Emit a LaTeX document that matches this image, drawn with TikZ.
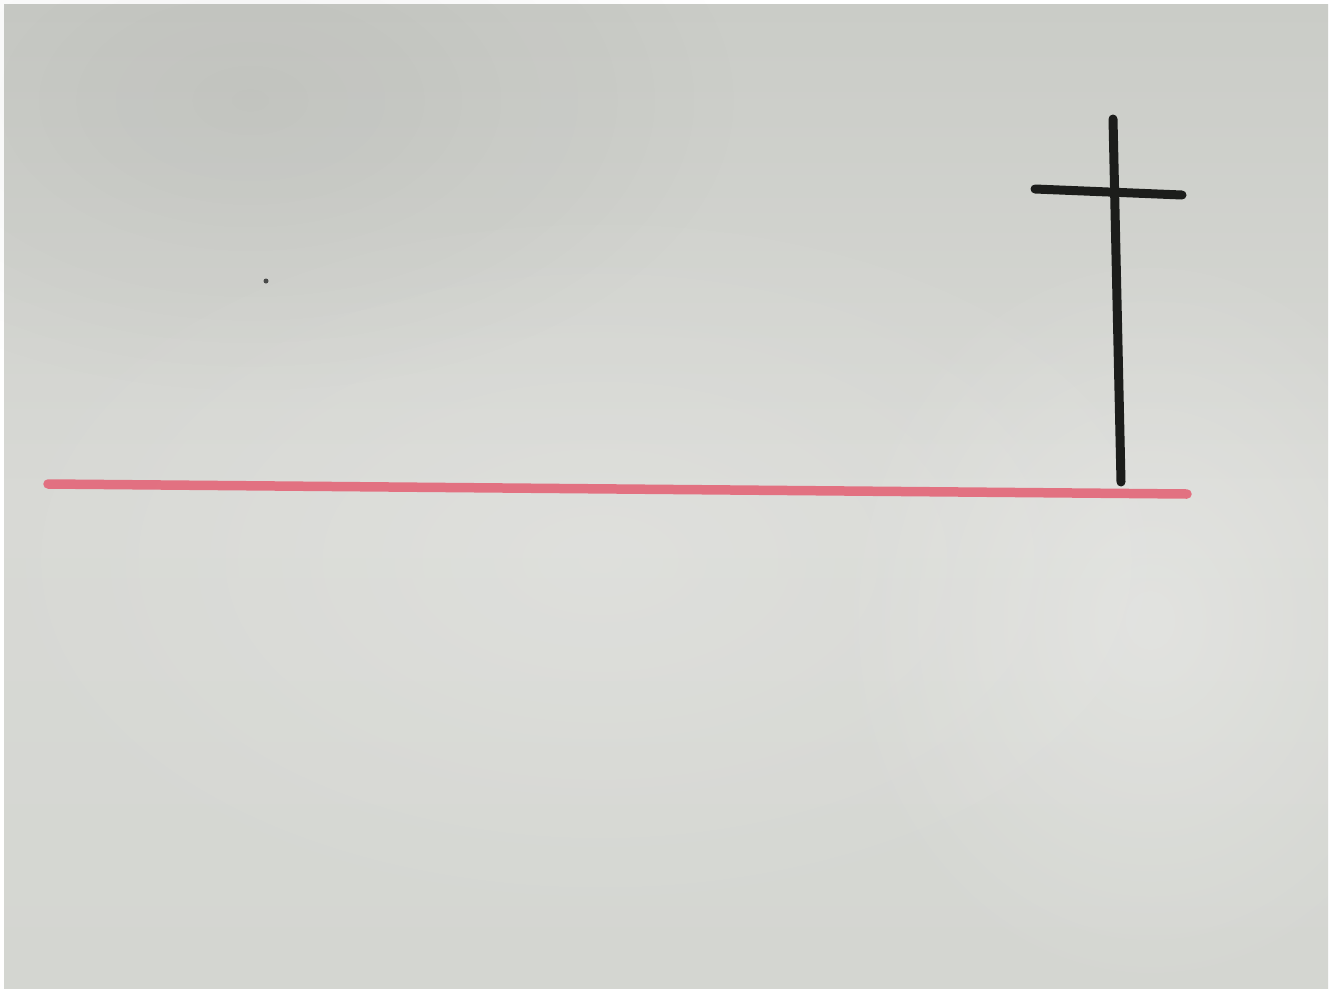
\documentclass[tikz,border=0pt]{standalone}
\usetikzlibrary{fadings}
\definecolor{paperA}{HTML}{CACCC7}
\definecolor{paperB}{HTML}{D8D9D5}
\definecolor{paperC}{HTML}{D4D6D1}
\definecolor{marker}{HTML}{E3687A}
\definecolor{ink}{HTML}{1C1D1B}
\tikzfading[name=softglow, inner color=transparent!0, outer color=transparent!100]
\tikzset{
  redline/.style={draw=marker, line width=0.19cm, line cap=round, opacity=0.92},
  inkline/.style={draw=ink, line width=0.18cm, line cap=round},
  glow/.style={path fading=softglow},
}
\begin{document}
\begin{tikzpicture}[x=0.02cm,y=-0.02cm]
\useasboundingbox (0,0) rectangle (1332,991);
\fill[white] (0,0) rectangle (1332,991);
% paper
\shade[top color=paperA, bottom color=paperC, middle color=paperB] (4,4) rectangle (1328,988);
\fill[white, opacity=0.28, glow] (1150,620) ellipse [x radius=320, y radius=380];
\fill[white, opacity=0.18, glow] (600,560) ellipse [x radius=650, y radius=380];
\fill[black, opacity=0.05, glow] (250,100) ellipse [x radius=500, y radius=300];
% speck
\fill[ink!80] (266,281) circle [radius=2.5];
% red line
\coordinate (rA) at (48,484);
\coordinate (rB) at (1187,494);
\draw[redline] (rA) -- (rB);
% cross
\coordinate (vT) at (1113,119);
\coordinate (vB) at (1121,482);
\coordinate (hL) at (1035,189);
\coordinate (hR) at (1182,195);
\draw[inkline] (vT) -- (vB);
\draw[inkline] (hL) -- (hR);
\end{tikzpicture}
\end{document}
